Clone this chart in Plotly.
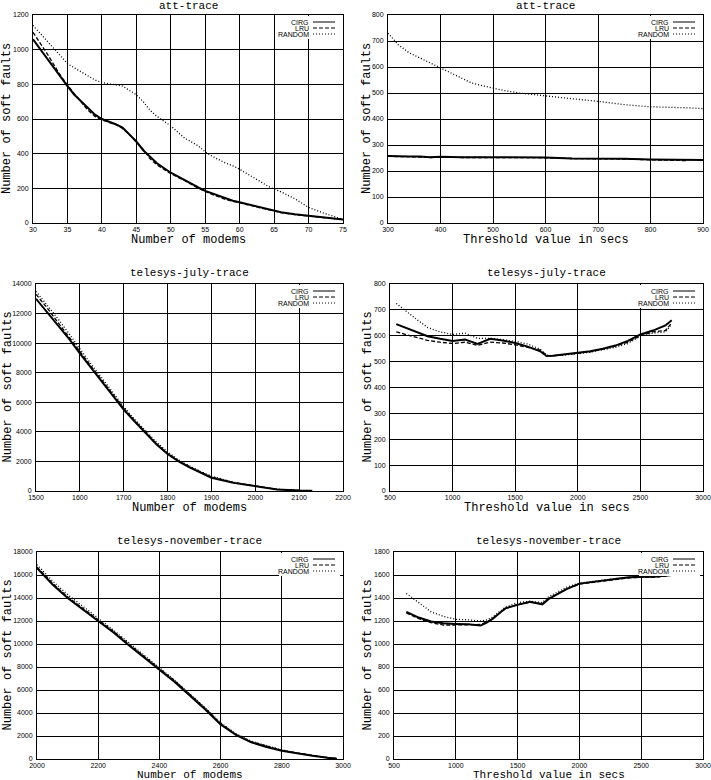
import plotly.graph_objects as go
from plotly.subplots import make_subplots

W, H = 711, 780

# ---------------- data ----------------
att_m_x = [30, 32, 34, 35, 36, 38, 39, 40, 41, 42, 43, 44, 45, 46, 47, 48, 50, 52, 54, 55, 56, 58, 59, 60, 62, 64, 65, 66, 68, 70, 72, 75]
att_m_cirg = [1060, 950, 840, 790, 740, 660, 625, 600, 585, 570, 550, 510, 470, 420, 380, 345, 290, 245, 205, 185, 170, 140, 128, 120, 100, 80, 72, 62, 50, 40, 33, 20]
att_m_lru = [1100, 980, 850, 795, 745, 650, 615, 595, 580, 568, 545, 510, 468, 425, 370, 335, 285, 245, 200, 182, 165, 135, 125, 118, 95, 78, 70, 60, 48, 40, 30, 20]
att_m_random = [1140, 1050, 960, 920, 895, 850, 825, 810, 803, 800, 790, 765, 740, 700, 650, 615, 560, 490, 445, 410, 385, 345, 330, 310, 260, 215, 195, 180, 140, 90, 60, 20]

att_t_x = [300, 320, 340, 360, 380, 400, 420, 440, 460, 480, 500, 520, 550, 580, 600, 650, 700, 750, 800, 850, 870, 900]
att_t_cirg = [258, 256, 256, 256, 253, 255, 253, 253, 253, 253, 252, 252, 252, 252, 252, 248, 248, 247, 244, 243, 243, 242]
att_t_lru = [258, 255, 255, 254, 252, 254, 252, 252, 252, 252, 251, 251, 251, 252, 251, 248, 248, 246, 243, 242, 240, None]
att_t_random = [730, 685, 655, 635, 615, 597, 575, 555, 538, 528, 518, 510, 500, 493, 488, 478, 468, 455, 447, 445, 443, 440]

jul_m_x = [1500, 1525, 1550, 1575, 1600, 1625, 1650, 1675, 1700, 1725, 1750, 1775, 1800, 1825, 1850, 1875, 1900, 1950, 2000, 2050, 2100, 2130]
jul_m_cirg = [13000, 12100, 11200, 10300, 9300, 8350, 7400, 6450, 5500, 4700, 3900, 3150, 2500, 2000, 1600, 1250, 900, 550, 300, 100, 30, 15]
jul_m_lru = [13300, 12400, 11400, 10450, 9450, 8450, 7500, 6550, 5600, 4750, 3950, 3200, 2550, 2050, 1650, 1280, 950, 580, 320, 110, 35, None]
jul_m_random = [13500, 12600, 11650, 10650, 9600, 8600, 7650, 6650, 5700, 4850, 4050, 3300, 2650, 2100, 1700, 1320, 1000, 600, 350, 120, 35, None]

jul_t_x = [550, 600, 700, 800, 900, 1000, 1100, 1200, 1300, 1400, 1500, 1600, 1700, 1750, 1800, 1900, 2000, 2100, 2200, 2300, 2400, 2500, 2600, 2700, 2750]
jul_t_cirg = [645, 635, 615, 598, 588, 580, 585, 568, 588, 582, 572, 558, 540, 522, 523, 528, 533, 540, 550, 562, 580, 605, 620, 640, 660]
jul_t_lru = [615, 608, 595, 582, 575, 570, 575, 563, 575, 572, 565, 555, 545, 525, 522, 527, 532, 538, 548, 560, 575, 600, 615, 620, 650]
jul_t_random = [725, 705, 668, 632, 615, 605, 610, 590, 590, 585, 578, 568, 548, 525, 523, 526, 530, 537, 545, 555, 570, 598, 610, 615, 645]

nov_m_x = [2000, 2050, 2100, 2150, 2200, 2250, 2300, 2350, 2400, 2450, 2500, 2550, 2600, 2650, 2700, 2750, 2800, 2850, 2900, 2950, 2980]
nov_m_cirg = [16600, 15200, 14000, 13000, 12050, 11000, 9900, 8850, 7800, 6700, 5500, 4300, 3000, 2100, 1450, 1050, 720, 480, 280, 100, 30]
nov_m_lru = [16700, 15300, 14100, 13100, 12150, 11100, 10000, 8950, 7900, 6800, 5600, 4400, 3100, 2150, 1500, 1100, 760, 510, 300, 110, 40]
nov_m_random = [16900, 15500, 14300, 13300, 12250, 11200, 10100, 9050, 7950, 6850, 5650, 4450, 3150, 2200, 1550, 1150, 790, 530, 310, 120, 40]

nov_t_x = [600, 700, 800, 900, 1000, 1100, 1200, 1250, 1300, 1400, 1500, 1600, 1700, 1750, 1800, 1900, 2000, 2100, 2200, 2300, 2400, 2500, 2600, 2700, 2750]
nov_t_cirg = [1280, 1230, 1195, 1180, 1175, 1172, 1160, 1185, 1220, 1310, 1340, 1368, 1345, 1390, 1420, 1480, 1525, 1540, 1550, 1570, 1580, 1585, 1585, 1595, 1600]
nov_t_lru = [1270, 1220, 1185, 1165, 1165, 1168, 1170, 1190, 1225, 1305, 1345, 1362, 1350, 1395, 1425, 1480, 1520, 1535, 1550, 1565, 1575, 1580, 1580, 1590, 1600]
nov_t_random = [1440, 1360, 1280, 1240, 1215, 1210, 1200, 1210, 1235, 1320, 1360, 1372, 1360, 1410, 1440, 1495, 1530, 1545, 1555, 1570, 1575, 1580, 1580, 1590, 1600]

series_names = ["CIRG", "LRU", "RANDOM"]
titles = ["att-trace", "att-trace", "telesys-july-trace", "telesys-july-trace",
          "telesys-november-trace", "telesys-november-trace"]
x_titles = ["Number of modems", "Threshold value in secs"] * 3
y_title = "Number of soft faults"

panels = [
    (att_m_x, [att_m_cirg, att_m_lru, att_m_random], [30, 75], 5, [0, 1200], 200),
    (att_t_x, [att_t_cirg, att_t_lru, att_t_random], [300, 900], 100, [0, 800], 100),
    (jul_m_x, [jul_m_cirg, jul_m_lru, jul_m_random], [1500, 2200], 100, [0, 14000], 2000),
    (jul_t_x, [jul_t_cirg, jul_t_lru, jul_t_random], [500, 3000], 500, [0, 800], 100),
    (nov_m_x, [nov_m_cirg, nov_m_lru, nov_m_random], [2000, 3000], 200, [0, 18000], 2000),
    (nov_t_x, [nov_t_cirg, nov_t_lru, nov_t_random], [500, 3000], 500, [0, 1800], 200),
]

# plot-area boxes in pixels: (left, right, top, bottom)
boxes = [
    (33, 343, 15, 223), (388, 703, 15, 223),
    (36, 343, 284, 491), (390, 703, 284, 491),
    (37, 343, 552, 759), (394, 703, 552, 759),
]
title_y = [6, 6, 273, 273, 541, 541]
xtitle_y = [240, 240, 508, 508, 775, 775]
xtitle_size = [12, 12, 12, 12, 11, 11]
ytitle_x = [7, 367, 7, 367, 7, 367]

styles = [dict(dash="solid", width=2), dict(dash="4px,2px", width=1.3), dict(dash="1px,2px", width=1.3)]

fig = make_subplots(rows=3, cols=2)

mono = "Liberation Mono"
small = dict(family="Liberation Sans", size=7, color="black")

for i, (xs, ys, xr, xd, yr, yd) in enumerate(panels):
    r, c = i // 2 + 1, i % 2 + 1
    for name, yv, st in zip(series_names, ys, styles):
        fig.add_trace(go.Scatter(x=xs, y=yv, mode="lines", name=name, showlegend=False,
                                 line=dict(color="black", **st)), row=r, col=c)
    L, R, T, B = boxes[i]
    ax = "" if i == 0 else str(i + 1)
    fig.layout["xaxis" + ax].update(domain=[L / W, R / W], range=xr, dtick=xd, tick0=xr[0])
    fig.layout["yaxis" + ax].update(domain=[1 - B / H, 1 - T / H], range=yr, dtick=yd, tick0=0)

    # titles
    cx = (L + R) / 2 / W
    fig.add_annotation(text=titles[i], x=cx, y=1 - title_y[i] / H, xref="paper", yref="paper",
                       showarrow=False, xanchor="center", yanchor="middle",
                       font=dict(family=mono, size=11, color="black"))
    fig.add_annotation(text=x_titles[i], x=cx, y=1 - xtitle_y[i] / H, xref="paper", yref="paper",
                       showarrow=False, xanchor="center", yanchor="middle", borderpad=0,
                       font=dict(family=mono, size=xtitle_size[i], color="black"))
    fig.add_annotation(text=y_title, x=ytitle_x[i] / W, y=1 - (T + B) / 2 / H, xref="paper", yref="paper",
                       showarrow=False, xanchor="center", yanchor="middle", textangle=-90,
                       font=dict(family=mono, size=12, color="black"))

    # in-plot legend (text left, sample right)
    xref = "x" + ax + " domain"
    yref = "y" + ax + " domain"
    pw, ph = R - L, B - T
    fig.add_shape(type="rect", xref=xref, yref=yref, x0=1 - 64 / pw, x1=1 - 3 / pw,
                  y0=1 - 24 / ph, y1=1 - 1 / ph, fillcolor="white", line=dict(width=0), layer="above")
    for k, (name, st) in enumerate(zip(series_names, styles)):
        yy = 1 - (7 + 6 * k) / ph
        fig.add_annotation(text=name, x=1 - 33 / pw, y=yy, xref=xref, yref=yref, showarrow=False,
                           xanchor="right", yanchor="middle", borderpad=0,
                           font=dict(family="Liberation Sans", size=7, color="black"))
        fig.add_shape(type="line", xref=xref, yref=yref, x0=1 - 30 / pw, x1=1 - 8 / pw, y0=yy, y1=yy,
                      line=dict(color="black", width=1, dash=st["dash"]), layer="above")

fig.update_xaxes(showgrid=True, gridcolor="black", gridwidth=1, showline=True, linecolor="black",
                 linewidth=1, mirror=True, zeroline=False, ticks="", tickfont=small,
                 tickformat="d", ticklabelstandoff=0, automargin=False)
fig.update_yaxes(showgrid=True, gridcolor="black", gridwidth=1, showline=True, linecolor="black",
                 linewidth=1, mirror=True, zeroline=False, ticks="", tickfont=small,
                 tickformat="d", ticklabelstandoff=2, automargin=False)

fig.update_layout(width=W, height=H, margin=dict(l=0, r=0, t=0, b=0, autoexpand=False),
                  paper_bgcolor="white", plot_bgcolor="white", showlegend=False)

fig.write_html("out.html")
